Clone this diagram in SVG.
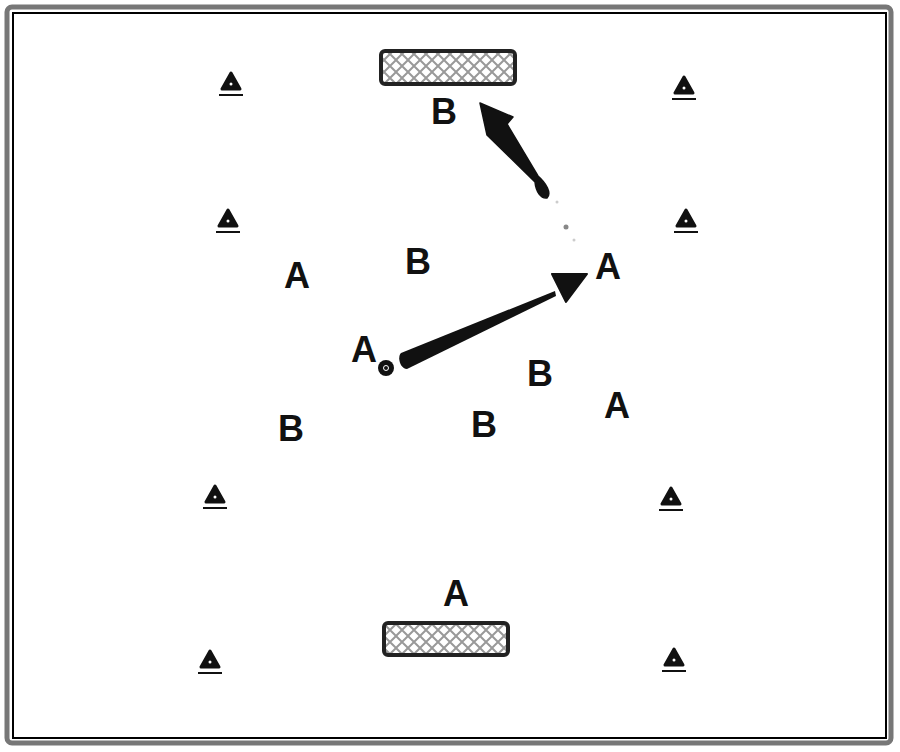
<svg xmlns="http://www.w3.org/2000/svg" width="900" height="752" viewBox="0 0 900 752">
<style>
.lbl{font-family:"Liberation Sans",Arial,sans-serif;font-size:36px;font-weight:bold;fill:#111;text-anchor:middle}
.cone{fill:#111;stroke:#111;stroke-width:3;stroke-linejoin:round}
.cline{stroke:#111;stroke-width:2}
.goal{fill:url(#hatch);stroke:#222;stroke-width:4}
</style>
<defs>
<pattern id="hatch" width="12" height="12" patternUnits="userSpaceOnUse">
<rect width="12" height="12" fill="#fff"/>
<path d="M0,0 L12,12 M12,0 L0,12" stroke="#999" stroke-width="2"/>
</pattern>
<g id="cone">
<path class="cone" d="M0,-9 L9,7 L-9,7 Z"/>
<circle cx="0" cy="2" r="1.5" fill="#fff"/>
<line class="cline" x1="-12" y1="13" x2="12" y2="13"/>
</g>
</defs>
<rect width="900" height="752" fill="#fff"/>
<rect x="7" y="7" width="884" height="736" rx="5" fill="none" stroke="#777" stroke-width="5"/>
<rect x="13" y="13" width="873" height="725" fill="none" stroke="#000" stroke-width="2"/>

<g id="goal-top"><rect class="goal" x="381" y="51" width="134" height="33" rx="4"/></g>
<g id="goal-bottom"><rect class="goal" x="384" y="623" width="124" height="32" rx="4"/></g>

<g id="cones">
<use href="#cone" x="231" y="82"/>
<use href="#cone" x="684" y="86"/>
<use href="#cone" x="228" y="219"/>
<use href="#cone" x="686" y="219"/>
<use href="#cone" x="215" y="495"/>
<use href="#cone" x="671" y="497"/>
<use href="#cone" x="210" y="660"/>
<use href="#cone" x="674" y="658"/>
</g>

<g id="players">
<text class="lbl" x="444" y="124">B</text>
<text class="lbl" x="418" y="274">B</text>
<text class="lbl" x="297" y="288">A</text>
<text class="lbl" x="608" y="279">A</text>
<text class="lbl" x="364" y="362">A</text>
<text class="lbl" x="540" y="386">B</text>
<text class="lbl" x="617" y="418">A</text>
<text class="lbl" x="291" y="441">B</text>
<text class="lbl" x="484" y="437">B</text>
<text class="lbl" x="456" y="606">A</text>
</g>

<g id="ball"><circle cx="386" cy="368" r="8" fill="#111"/><circle cx="386" cy="368" r="2.5" fill="none" stroke="#fff" stroke-width="1"/></g>

<g id="connectors">
<path d="M480,103 L513,117 L507,124 L538,176 C546,183 552,193 547,198 C541,199 536,192 535,182 L487,135 Z" fill="#111" stroke="#111" stroke-width="1.5" stroke-linejoin="round"/>
<circle cx="566" cy="227" r="2.5" fill="#888"/>
<circle cx="557" cy="202" r="1.5" fill="#ccc"/>
<circle cx="574" cy="240" r="1.5" fill="#ccc"/>
<path d="M401,353 L555,291 L556,296 L407,369 C400,369 397,357 401,353 Z" fill="#111"/>
<path d="M552,274 L587,274 L566,302 Z" fill="#111" stroke="#111" stroke-width="2" stroke-linejoin="round"/>
</g>
</svg>
